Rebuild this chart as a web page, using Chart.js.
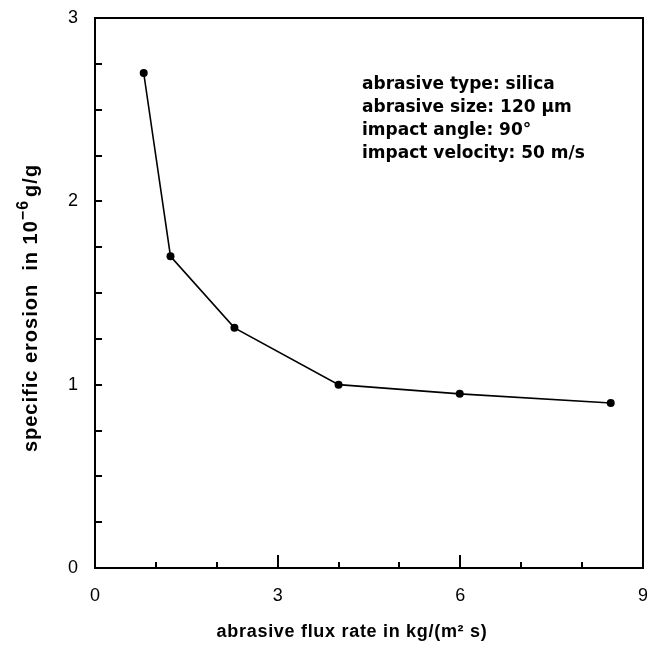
<!DOCTYPE html>
<html>
<head>
<meta charset="utf-8">
<script src="https://cdn.jsdelivr.net/npm/chart.js@4"></script>
<style>
  html, body { margin: 0; padding: 0; background: #fff; }
  #wrap { width: 647px; height: 647px; }
</style>
</head>
<body>
<div id="wrap"><canvas id="erosionChart" width="647" height="647"></canvas></div>
<script>
'use strict';
// measured points: flux rate (kg/(m2 s)) vs specific erosion (1e-6 g/g)
var fluxRate = [0.8, 1.24, 2.29, 4.0, 5.99, 8.47];
var specificErosion = [2.70, 1.70, 1.31, 1.00, 0.95, 0.90];
var xTicks = [0, 3, 6, 9];
var yTicks = [0, 1, 2, 3];
var infoLines = ['abrasive type: silica', 'abrasive size: 120 \u00b5m', 'impact angle: 90\u00b0', 'impact velocity: 50 m/s'];
var xTitle = 'abrasive flux rate in kg/(m\u00b2 s)';
var yTitle = ['specific erosion  in 10', '\u22126', 'g/g'];

var points = [];
for (var i = 0; i < fluxRate.length; i++) {
  points.push({x: fluxRate[i], y: specificErosion[i]});
}

var titleFace = '"Liberation Sans", Arial, sans-serif';

// box round the plot, inward tick marks, info text and axis titles
var decorations = {
  id: 'decorations',
  afterDraw: function (chart) {
    var ctx = chart.ctx;
    var area = chart.chartArea;
    var xs = chart.scales.x;
    var ys = chart.scales.y;
    ctx.save();
    ctx.strokeStyle = '#000';
    ctx.lineWidth = 2;
    ctx.strokeRect(area.left, area.top, area.right - area.left, area.bottom - area.top);

    ctx.beginPath();
    for (var v = 0; v <= 9; v++) {
      var px = Math.round(xs.getPixelForValue(v));
      var len = (v % 3 === 0) ? 13 : 6;
      ctx.moveTo(px, area.bottom);
      ctx.lineTo(px, area.bottom - len);
    }
    for (var w = 0; w <= 3; w += 0.25) {
      var py = Math.round(ys.getPixelForValue(w));
      ctx.moveTo(area.left, py);
      ctx.lineTo(area.left + 7, py);
    }
    ctx.stroke();

    ctx.fillStyle = '#000';
    ctx.textBaseline = 'alphabetic';

    // info block
    ctx.textAlign = 'left';
    ctx.font = 'bold 17px "DejaVu Sans"';
    for (var k = 0; k < infoLines.length; k++) {
      ctx.fillText(infoLines[k], 362, 89 + k * 23);
    }

    // x title
    ctx.textAlign = 'center';
    ctx.font = 'bold 18px ' + titleFace;
    ctx.letterSpacing = '0.7px';
    ctx.fillText(xTitle, 352, 637);

    // y title with raised exponent
    var mainFont = 'bold 20px ' + titleFace;
    var supFont = 'bold 16px ' + titleFace;
    ctx.translate(37, 308);
    ctx.rotate(-Math.PI / 2);
    ctx.textAlign = 'left';
    ctx.letterSpacing = '1px';
    ctx.font = mainFont;
    var w0 = ctx.measureText(yTitle[0]).width;
    ctx.font = supFont;
    var w1 = ctx.measureText(yTitle[1]).width;
    ctx.font = mainFont;
    var w2 = ctx.measureText(yTitle[2]).width;
    var start = -(w0 + w1 + w2 + 3) / 2;
    ctx.fillText(yTitle[0], start, 0);
    ctx.font = supFont;
    ctx.fillText(yTitle[1], start + w0, -9);
    ctx.font = mainFont;
    ctx.fillText(yTitle[2], start + w0 + w1 + 3, 0);
    ctx.restore();
  }
};

var ctx = document.getElementById('erosionChart').getContext('2d');
var chart = new Chart(ctx, {
  type: 'line',
  data: {
    datasets: [{
      data: points,
      borderColor: '#000',
      borderWidth: 1.6,
      pointRadius: 4,
      pointBackgroundColor: '#000',
      pointBorderColor: '#000',
      pointBorderWidth: 0,
      tension: 0,
      fill: false
    }]
  },
  options: {
    responsive: false,
    animation: false,
    devicePixelRatio: 1,
    layout: {padding: {top: 18, right: 1, left: 0, bottom: 0}},
    plugins: {legend: {display: false}, tooltip: {enabled: false}},
    scales: {
      x: {
        type: 'linear',
        min: 0,
        max: 9,
        afterBuildTicks: function (scale) {
          scale.ticks = xTicks.map(function (t) { return {value: t}; });
        },
        afterFit: function (scale) {
          scale.height = 79;
          scale.paddingLeft = 0;
          scale.paddingRight = 0;
        },
        grid: {display: false, drawTicks: false},
        border: {display: false},
        ticks: {
          padding: 17,
          maxRotation: 0,
          color: '#000',
          font: {family: '"Liberation Sans"', size: 18}
        }
      },
      y: {
        type: 'linear',
        min: 0,
        max: 3,
        afterBuildTicks: function (scale) {
          scale.ticks = yTicks.map(function (t) { return {value: t}; });
        },
        afterFit: function (scale) {
          scale.width = 95;
          scale.paddingTop = 0;
          scale.paddingBottom = 0;
        },
        grid: {display: false, drawTicks: false},
        border: {display: false},
        ticks: {
          padding: 17,
          color: '#000',
          font: {family: '"Liberation Sans"', size: 18}
        }
      }
    }
  },
  plugins: [decorations]
});
</script>
</body>
</html>
